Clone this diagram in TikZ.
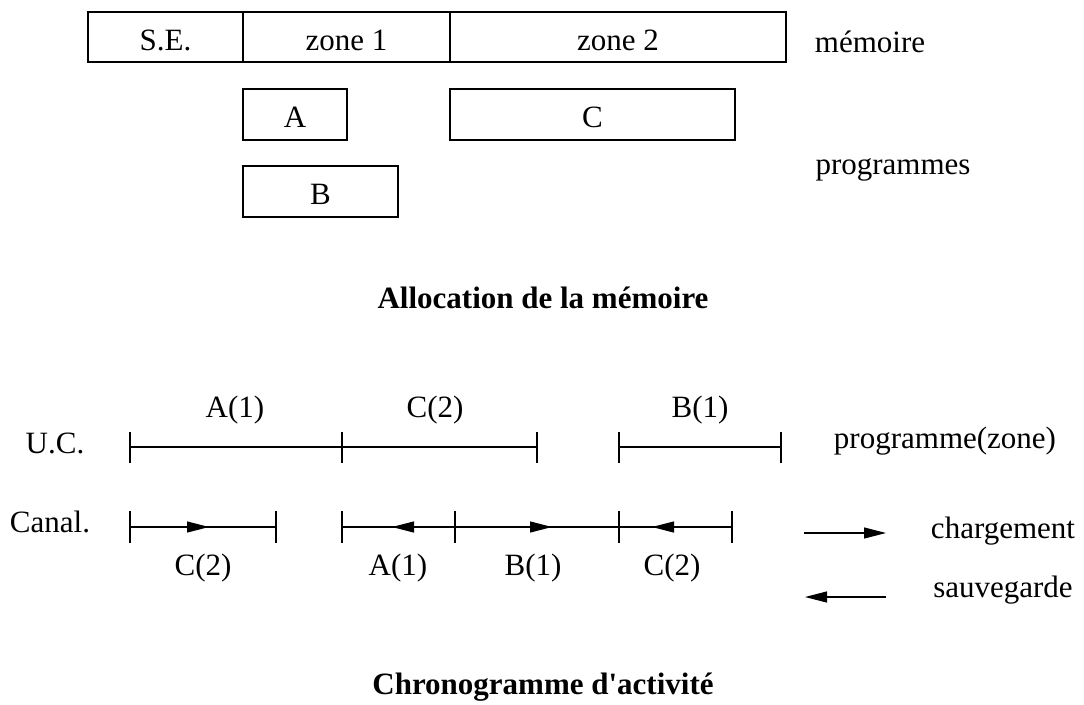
\documentclass[tikz,border=0pt]{standalone}
\usepackage{fontspec}
\setmainfont[Ligatures=TeXOff]{Liberation Serif}
\usetikzlibrary{arrows.meta}
\begin{document}
\begin{tikzpicture}[x=1pt,y=-1pt,
  every node/.style={font=\fontsize{31}{36}\selectfont},
  cell/.style={draw,line width=1.2pt,inner sep=0pt,minimum height=50pt,text height=26pt,text depth=0pt},
  tl/.style={line width=1.2pt},
  tip/.style={line width=1.2pt,-{Triangle[length=22pt,width=11pt]}},
  ttl/.style={font=\fontsize{31}{36}\selectfont\bfseries}]
\useasboundingbox (0,0) rectangle (1084,704);
% memory
\node[cell,minimum width=155pt] (se) at (165.5,37) {S.E.};
\node[cell,minimum width=207pt] (z1) at (346.5,37) {zone 1};
\node[cell,minimum width=336pt] (z2) at (618,37) {zone 2};
\node (mem) at (870,42) {mémoire};
\node[cell,minimum width=104pt,minimum height=51pt] (pa) at (295,114.5) {A};
\node[cell,minimum width=285pt,minimum height=51pt] (pc) at (592.5,114.5) {C};
\node[cell,minimum width=155pt,minimum height=51pt] (pb) at (320.5,191.5) {B};
\node (prog) at (893,170) {programmes};
\node[ttl] (t1) at (543,298) {Allocation de la mémoire};
% UC line
\node (uc) at (55,443) {U.C.};
\node (pz) at (945,441) {programme(zone)};
\coordinate (u0) at (130,447);
\coordinate (u1) at (342,447);
\coordinate (u2) at (537,447);
\coordinate (u3) at (619,447);
\coordinate (u4) at (781,447);
\draw[tl] (u0) -- (u2);
\draw[tl] (u3) -- (u4);
\foreach \c in {u0,u1,u2,u3,u4} \draw[tl] ([yshift=-16pt]\c) -- ([yshift=15pt]\c);
\node (la1) at (235,410) {A(1)};
\node (lc2) at (435,410) {C(2)};
\node (lb1) at (700,410) {B(1)};
% Canal line
\node (can) at (50,522) {Canal.};
\coordinate (c0) at (130,527);
\coordinate (c1) at (276,527);
\coordinate (c2) at (342,527);
\coordinate (c3) at (455,527);
\coordinate (c4) at (619,527);
\coordinate (c5) at (732,527);
\draw[tl] (c0) -- (c1);
\draw[tl] (c2) -- (c5);
\foreach \c in {c0,c1,c2,c3,c4,c5} \draw[tl] ([yshift=-16pt]\c) -- ([yshift=16pt]\c);
\coordinate (a1) at (209,527);
\coordinate (a2) at (392,527);
\coordinate (a3) at (552,527);
\coordinate (a4) at (652,527);
\draw[tip] (c0) -- (a1);
\draw[tip] (c3) -- (a2);
\draw[tip] (c3) -- (a3);
\draw[tip] (c5) -- (a4);
\node (lc2b) at (203,568) {C(2)};
\node (la1b) at (398,568) {A(1)};
\node (lb1b) at (533,568) {B(1)};
\node (lc2c) at (672,568) {C(2)};
% legend
\coordinate (g1s) at (804,533);
\coordinate (g1e) at (886,533);
\coordinate (g2s) at (886,597);
\coordinate (g2e) at (805,597);
\draw[tip] (g1s) -- (g1e);
\draw[tip] (g2s) -- (g2e);
\node (chg) at (1003,531) {chargement};
\node (sav) at (1003,590) {sauvegarde};
\node[ttl] (t2) at (543,687) {Chronogramme d'activité};
\end{tikzpicture}
\end{document}
